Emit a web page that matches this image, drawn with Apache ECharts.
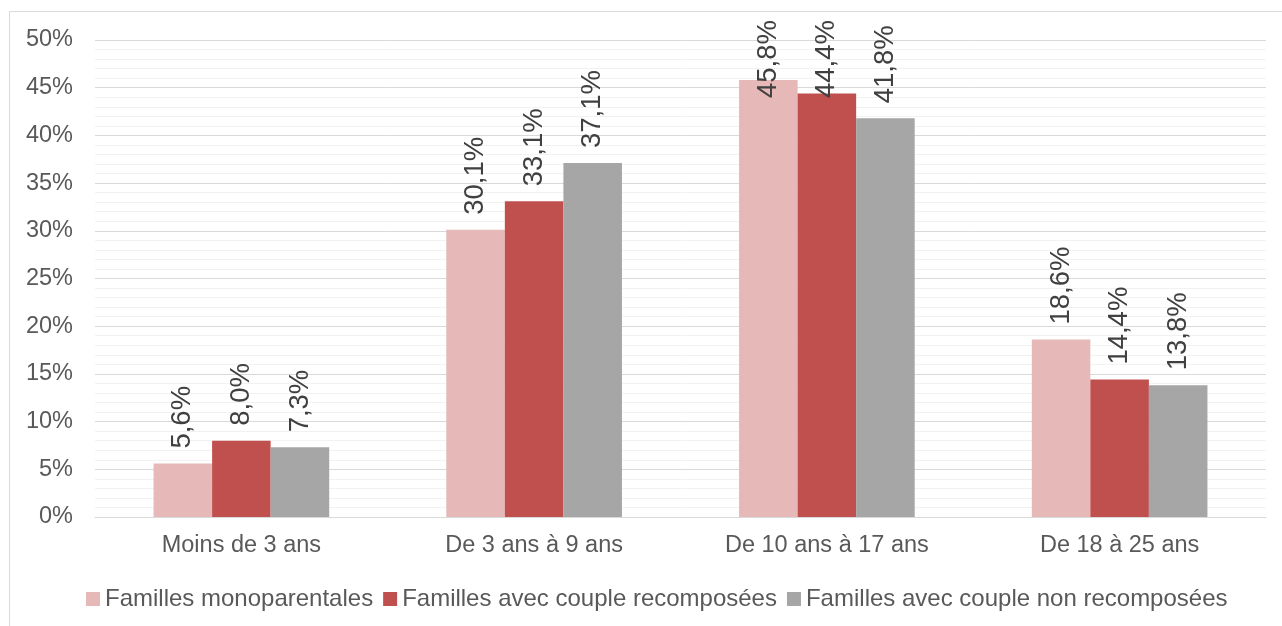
<!DOCTYPE html>
<html>
<head>
<meta charset="utf-8">
<script src="https://cdn.jsdelivr.net/npm/echarts@6/dist/echarts.min.js"></script>
<style>
html,body{margin:0;padding:0;background:#fff;}
#c{width:1282px;height:626px;}
</style>
</head>
<body>
<div id="c"></div>
<script>
const categories = ['Moins de 3 ans', 'De 3 ans à 9 ans', 'De 10 ans à 17 ans', 'De 18 à 25 ans'];
const seriesNames = ['Familles monoparentales', 'Familles avec couple recomposées', 'Familles avec couple non recomposées'];
const monoparentales = [5.6, 30.1, 45.8, 18.6];
const recomposees = [8.0, 33.1, 44.4, 14.4];
const nonRecomposees = [7.3, 37.1, 41.8, 13.8];
const colors = ['#E6B8B7', '#C0504D', '#A6A6A6'];

const FONT = '"Liberation Sans", Arial, sans-serif';
const chart = echarts.init(document.getElementById('c'), null, {renderer: 'canvas'});

function makeSeries(name, data, color) {
  return {
    name: name,
    type: 'bar',
    data: data,
    barGap: '0%',
    barCategoryGap: '40%',
    itemStyle: {color: color},
    label: {
      show: true,
      position: 'top',
      distance: 15,
      rotate: 90,
      align: 'left',
      verticalAlign: 'middle',
      color: '#404040',
      fontFamily: FONT,
      fontSize: 27.5,
      formatter: p => p.value.toFixed(1).replace('.', ',') + '%'
    },
    labelLayout: function (params) {
      const r = params.labelRect;
      if (r.y < 20) {
        return {y: 20 + r.height};
      }
      return {};
    }
  };
}

chart.setOption({
  animation: false,
  backgroundColor: '#fff',
  textStyle: {fontFamily: FONT},
  graphic: [{
    type: 'rect',
    shape: {x: 9.5, y: 11.5, width: 1400, height: 800},
    style: {fill: 'none', stroke: '#d9d9d9', lineWidth: 1},
    silent: true,
    z: -10
  }],
  grid: {left: 95, right: 16, top: 40, bottom: 109},
  legend: {
    bottom: 15,
    left: 86,
    padding: 0,
    itemWidth: 14,
    itemHeight: 14,
    itemGap: 10,
    icon: 'rect',
    textStyle: {color: '#595959', fontSize: 24, fontFamily: FONT},
    data: seriesNames
  },
  xAxis: {
    type: 'category',
    data: categories,
    axisLine: {show: true, lineStyle: {color: '#d9d9d9', width: 1}},
    axisTick: {show: false},
    axisLabel: {color: '#595959', fontSize: 23.5, fontFamily: FONT, margin: 17}
  },
  yAxis: {
    type: 'value',
    min: 0,
    max: 50,
    interval: 5,
    axisLine: {show: false},
    axisTick: {show: false},
    axisLabel: {color: '#595959', fontSize: 23.5, fontFamily: FONT, margin: 22, padding: [3, 0, 0, 0], formatter: v => v + '%'},
    splitLine: {show: true, lineStyle: {color: '#d9d9d9', width: 1}},
    minorTick: {show: false, splitNumber: 5},
    minorSplitLine: {show: true, lineStyle: {color: '#f2f2f2', width: 1}}
  },
  series: [
    makeSeries(seriesNames[0], monoparentales, colors[0]),
    makeSeries(seriesNames[1], recomposees, colors[1]),
    makeSeries(seriesNames[2], nonRecomposees, colors[2])
  ]
});
</script>
</body>
</html>
